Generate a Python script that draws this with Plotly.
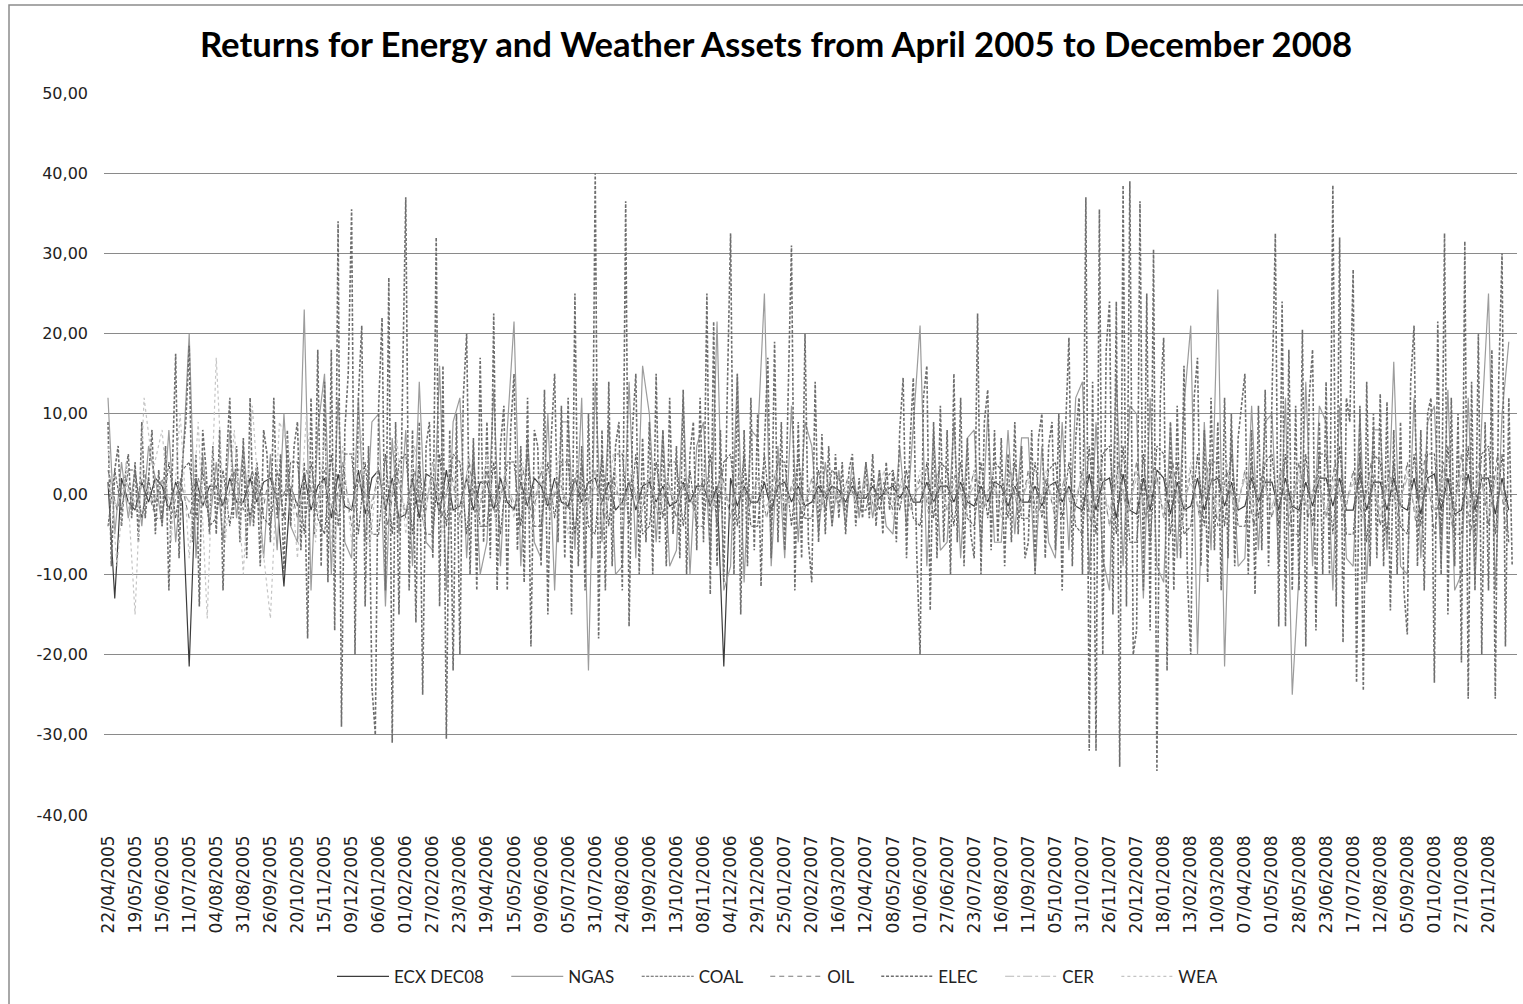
import numpy as np
import plotly.graph_objects as go

TITLE = "Returns for Energy and Weather Assets from April 2005 to December 2008"
TICK_LABELS = [
    "22/04/2005", "19/05/2005", "15/06/2005", "11/07/2005", "04/08/2005", "31/08/2005",
    "26/09/2005", "20/10/2005", "15/11/2005", "09/12/2005", "06/01/2006", "01/02/2006",
    "27/02/2006", "23/03/2006", "19/04/2006", "15/05/2006", "09/06/2006", "05/07/2006",
    "31/07/2006", "24/08/2006", "19/09/2006", "13/10/2006", "08/11/2006", "04/12/2006",
    "29/12/2006", "25/01/2007", "20/02/2007", "16/03/2007", "12/04/2007", "08/05/2007",
    "01/06/2007", "27/06/2007", "23/07/2007", "16/08/2007", "11/09/2007", "05/10/2007",
    "31/10/2007", "26/11/2007", "20/12/2007", "18/01/2008", "13/02/2008", "10/03/2008",
    "07/04/2008", "01/05/2008", "28/05/2008", "23/06/2008", "17/07/2008", "12/08/2008",
    "05/09/2008", "01/10/2008", "27/10/2008", "20/11/2008",
]
Y_TICKS = [-40, -30, -20, -10, 0, 10, 20, 30, 40, 50]
Y_TICK_LABELS = ["-40,00", "-30,00", "-20,00", "-10,00", "0,00",
                 "10,00", "20,00", "30,00", "40,00", "50,00"]
DAYS_PER_LABEL = 19          # trading days between two date labels
TOTAL_DAYS = 989             # trading days in the sample

# values per label interval (one row per interval between consecutive labels)
ECX = [
    [1.5, -13, 2, -1], [-2, 1.5, -1, 2], [1, -2, 1.5, -1], [-21.5, 2, -1.5, 1],
    [1, -1.5, 2, -1], [-1, 2, -1, 1.5], [2, -1, -11.5, 1], [-1.5, 2.5, -2, 1],
    [2, -3, 2.5, -1.5], [-2, 3, -2.5, 2], [3, -2, 2, -3], [-2.5, 2, -3, 2.5],
    [2, -2.5, 3, -2], [-1.5, 2, -2, 1.5], [1.5, -2, 2, -1], [-2, 1.5, -1.5, 2],
    [1, -1.5, 2, -1], [-1.5, 2, -1, 1.5], [2, -1, 1.5, -2], [-1, 1.5, -2, 1],
    [1.5, -1, 1, -1.5], [-1, 1.5, -1, 1], [1, -1.5, 1, -21.5], [2, -1.5, 1, -1],
    [-1, 1.5, -2, 1], [1.5, -1, 1, -1.5], [-1, 1, -0.5, 1], [0.5, -1, 1, -0.5],
    [-0.5, 1, -0.5, 0.5], [1, -0.5, 1, -1], [-1, 1.5, -1, 1], [1, -1, 1.5, -1],
    [-1.5, 1, -1, 1.5], [1, -1.5, 1, -1], [-1, 1, -1.5, 1], [1.5, -1, 1, -1.5],
    [-2, 2.5, -2, 1.5], [2, -3, 2.5, -2], [-2.5, 2, -2, 3], [2, -2.5, 1.5, -2],
    [-1.5, 2, -2, 1.5], [2, -1.5, 1.5, -2], [-1.5, 2, -1, 1.5], [1.5, -2, 2, -1.5],
    [-2, 1.5, -1.5, 2], [2, -1.5, 2, -2], [-2, 2.5, -2, 1.5], [1.5, -2, 2, -1.5],
    [-2, 2, -2.5, 2], [2.5, -2, 2, -2.5], [-2, 2.5, -2, 2], [2, -2.5, 2, -2],
]
NGAS = [
    [12, -5, 4, -3], [3, -4, 6, 2], [-4, 8, -6, 3], [20, -8, 5, -4],
    [4, -6, 8, -3], [6, -4, 3, -8], [5, -7, 10, -4], [-6, 23, -12, 8],
    [15, -10, 12, -6], [-8, 12, -6, 9], [10, -14, 7, -5], [8, -9, 14, -6],
    [-7, 16, -12, 9], [12, -8, 6, -10], [-6, 13, -9, 8], [21.5, -9, 7, -6],
    [-8, 10, -12, 9], [9, -7, 12, -22], [14, -6, 9, -10], [-9, 14, -8, 16],
    [10, -6, 8, -9], [-7, 12, -10, 6], [9, -8, 21.5, -12], [-9, 15, -11, 8],
    [7, 25, -9, 6], [-8, 11, -6, 9], [6, -5, 4, -4], [3, -4, 4, -3],
    [4, -3, 3, -4], [-5, 6, -4, 8], [21, -9, 8, -7], [-6, 9, -8, 7],
    [8, -7, 10, -6], [-6, 8, -5, 7], [7, -10, 6, -6], [-8, 9, -7, 12],
    [14, -10, 9, -8], [-12, 15, -9, 11], [10, -13, 12, -9], [-11, 9, -8, 11],
    [21, -20, 9, -7], [25.5, -21.5, 8, -9], [-8, 11, -7, 9], [10, -9, 12, -25],
    [-10, 14, -9, 11], [9, -12, 11, -8], [-9, 10, -11, 8], [8, -7, 16.5, -9],
    [-10, 12, -8, 9], [11, -9, 13, -12], [-10, 12, -11, 9], [25, -12, 10, 19],
]
COAL = [
    [-4, 3, -2, 3], [3, -3, 2, -3], [-3, 4, -3, 3], [4, -3, 3, -4],
    [-3, 3, -4, 3], [3, -3, 4, -3], [-4, 3, -3, 4], [4, -5, 4, -3],
    [-5, 5, -4, 5], [5, -5, 4, -5], [-5, 5, -5, 4], [5, -5, 4, -5],
    [-5, 5, -4, 5], [4, -5, 4, -4], [-4, 4, -5, 4], [4, -4, 5, -4],
    [-4, 4, -3, 4], [4, -5, 4, -4], [-5, 5, -4, 5], [5, -4, 5, -5],
    [-4, 4, -3, 4], [4, -4, 3, -4], [-4, 5, -4, 4], [5, -4, 5, -4],
    [-4, 5, -4, 4], [4, -4, 5, -3], [-3, 3, -2, 3], [2, -2, 2, -2],
    [-2, 2, -2, 2], [3, -2, 3, -3], [-4, 4, -3, 4], [3, -4, 4, -3],
    [-4, 4, -3, 4], [3, -3, 4, -3], [-3, 4, -3, 3], [4, -3, 4, -4],
    [-5, 6, -5, 5], [6, -5, 6, -6], [-6, 5, -6, 6], [5, -5, 4, -5],
    [-4, 5, -4, 4], [4, -4, 5, -4], [-4, 4, -3, 4], [5, -4, 5, -5],
    [-5, 5, -4, 5], [5, -5, 6, -5], [-5, 5, -6, 5], [4, -5, 4, -4],
    [-5, 5, -4, 5], [5, -5, 6, -5], [-5, 6, -5, 5], [6, -5, 5, -6],
]
OIL = [
    [3, -2, 2], [-2, 3, -2], [2, -3, 2], [-3, 2, -2], [2, -2, 3], [-2, 3, -3],
    [3, -2, 2], [-3, 3, -2], [3, -3, 4], [-4, 3, -3], [3, -4, 3], [-3, 3, -4],
    [4, -3, 3], [-3, 4, -3], [3, -3, 2], [-2, 3, -3], [3, -2, 2], [-2, 3, -2],
    [3, -3, 2], [-2, 2, -3], [2, -3, 2], [-3, 2, -2], [2, -2, 3], [-3, 3, -2],
    [2, -3, 3], [-2, 2, -3], [2, -2, 2], [-1.5, 2, -1.5], [1.5, -2, 1.5], [-2, 2, -2],
    [2, -2, 3], [-2, 3, -2], [3, -2, 2], [-2, 3, -3], [3, -3, 2], [-3, 2, -3],
    [3, -4, 3], [-4, 4, -3], [4, -3, 4], [-3, 4, -4], [3, -3, 4], [-4, 3, -3],
    [3, -4, 3], [-3, 3, -4], [4, -3, 3], [-3, 4, -3], [3, -3, 4], [-4, 3, -3],
    [4, -4, 5], [-5, 4, -4], [5, -5, 4], [-4, 5, -5],
]
ELEC = [
    [9, -9, 3, 6, -4, 2, 5, -3], [4, -6, 9, -3, 2, 8, -5, 3],
    [-4, 6, -12, 3, 17.5, -8, 4, 9], [18.5, -6, 5, -14, 8, 3, -5, 6],
    [-5, 8, -12, 4, 12, -3, 6, -6], [7, -8, 12, -4, 3, -9, 8, 5],
    [-6, 12, -3, 5, -10, 8, -4, 6], [9, -7, 4, -18, 12, -5, 18, -9],
    [14, -11, 18, -17, 34, -29, 8, 15], [35.5, -20, 12, 21, -14, 6, -24, -30],
    [11, 22, -12, 27, -31, 9, -15, 12], [37, -12, 8, -16, 9, -25, 6, 9],
    [-8, 32, -14, 16, -30.5, 8, -22, 10], [-20, 12, 20, -10, 7, -12, 17, -6],
    [9, -8, 22.5, -12, 6, 11, -12, 8], [15, -7, 6, -11, 12, -19, 8, 6],
    [-9, 13, -15, 7, 15, -6, 11, -8], [12, -15, 25, -9, 6, -12, 10, -8],
    [40, -18, 8, -12, 14, -9, 6, 9], [-12, 36.5, -16.5, 8, 15, -10, 7, -6],
    [9, -10, 15, -6, 8, -9, 12, -5], [6, -8, 13, -10, 5, 9, -7, 12],
    [-6, 25, -12.5, 21.5, -9, 8, -11, 12], [32.5, -10, 15, -15, 8, -9, 12, -7],
    [10, -11.5, 6, 17, -8, 19, -6, 9], [-7, 12, 31, -12, 9, -8, 20, -6],
    [-11, 14, -6, 7.5, -5, 6, -4, 5], [-3, 4, -5, 3, 5, -4, 2, -3],
    [4, -3, 5, -4, 3, -5, 4, -2], [3, -6, 8, 14.5, -8, 6, 14.5, -7],
    [-20, 12, 16, -14.5, 9, -8, 11, -6], [8, -10, 15, -6, 12, -9, 7, -5],
    [-8, 22.5, -10, 9, 13, -7, 8, -6], [7, -9, 5, -6, 9, -5, 6, -8],
    [-6, 8, -10, 7, 10, -8, 6, 9], [-7, 10, -12, 8, 19.5, -9, 7, 12],
    [-10, 37, -32, 14, -32, 35.5, -20, 18], [24, -15, 24, -34, 38.5, -14, 39, -20],
    [-17, 36.5, -12, 25, -17, 30.5, -34.5, 12], [19.5, -22, 9, -12, 11, -8, 16, -10],
    [-20, 12, 17, -9, 8, -11, 12, -7], [9, -12, 12, -8, 10, -9, 7, 11],
    [15, -10, 8, -12.5, 11, -7, 13, -9], [12, 32.5, -16.5, 24, -16.5, 18, -12, 11],
    [-12, 20.5, -19, 12, 18, -17, 9, -10], [14, -10, 38.5, -14, 32, -18.5, 12, 9],
    [28, -23.5, 11, -24.5, 14, -9, 10, -8], [12.5, -9, 11.5, -14.5, 8, -10, 9, -12],
    [-17.5, 14, 21, -9, 8, -12, 10, 12], [-23.5, 21.5, -10, 32.5, -15, 12, -9, 10],
    [-21, 31.5, -25.5, 14, -12, 20, -20, 9], [-12, 18, -25.5, 14, 30, -19, 12, -9],
]
CER = [
    [1, -1.5, 1], [-1, 1.5, -1], [1.5, -1, 1], [-1, 1, -1.5], [1, -1.5, 1.5], [-1.5, 1, -1],
    [1, -1, 1.5], [-1.5, 1.5, -1], [1.5, -2, 1.5], [-2, 1.5, -1.5], [1.5, -1.5, 2], [-2, 2, -1.5],
    [2, -1.5, 1.5], [-1.5, 2, -2], [1.5, -1, 1.5], [-1, 1.5, -1], [1.5, -1, 1], [-1, 1, -1.5],
    [1, -1.5, 1], [-1.5, 1, -1], [1, -1, 1], [-1, 1, -1], [1, -1, 1.5], [-1.5, 1, -1],
    [1, -1.5, 1], [-1, 1, -1], [0.5, -1, 0.5], [-0.5, 0.5, -0.5], [0.5, -0.5, 0.5], [-1, 1, -0.5],
    [1, -1, 1], [-1, 1, -1], [1, -1.5, 1], [-1, 1, -1.5], [1.5, -1, 1], [-1, 1.5, -1],
    [2, -2, 1.5], [-2, 2.5, -2], [2, -2, 2.5], [-2, 2, -1.5], [1.5, -2, 1.5], [-1.5, 1.5, -2],
    [2, -1.5, 1.5], [-1.5, 2, -1.5], [2, -2, 1.5], [-2, 1.5, -2], [1.5, -2, 2], [-2, 2, -1.5],
    [2, -2.5, 2], [-2, 2, -2.5], [2.5, -2, 2], [-2, 2.5, -2],
]
WEA = [
    [6, -9, 4], [-15, 12, 3], [8, -6, 10], [-8, 9, -15.5], [17, -6, 8], [-10, 11, -5],
    [-15.5, 9, 6], [-8, 10, -6], [7, -9, 6], [-6, 8, -7], [5, -6, 7], [-5, 6, -4],
    [4, -5, 6], [-4, 5, -3], [5, -4, 3], [-3, 4, -5], [4, -3, 5], [-5, 4, -3],
    [3, -4, 5], [-4, 3, -3], [3, -3, 2], [-2, 3, -3], [3, -2, 2], [-3, 3, -2],
    [2, -3, 3], [-3, 2, -2], [2, -2, 2], [-2, 2, -2], [2, -2, 3], [-3, 2, -2],
    [3, -3, 2], [-2, 3, -3], [3, -2, 3], [-3, 3, -2], [2, -3, 3], [-3, 2, -3],
    [3, -3, 4], [-4, 3, -3], [3, -4, 3], [-3, 3, -4], [4, -3, 3], [-3, 4, -3],
    [3, -3, 2], [-2, 3, -3], [3, -2, 3], [-3, 3, -2], [2, -3, 3], [-3, 2, -3],
    [3, -3, 2], [-2, 3, -3], [3, -2, 3], [-3, 3, -2],
]

SERIES = [
    ("ECX DEC08", ECX, "#3c3c3c", "solid", 1.2),
    ("NGAS", NGAS, "#9c9c9c", "solid", 1.2),
    ("COAL", COAL, "#5c5c5c", "3px,1.5px", 1.1),
    ("OIL", OIL, "#7a7a7a", "5px,4px", 1.1),
    ("ELEC", ELEC, "#6e6e6e", "3px,1.8px", 1.6),
    ("CER", CER, "#b8b8b8", "dashdot", 1.1),
    ("WEA", WEA, "#c4c4c4", "dot", 1.2),
]
PAD = "\u00a0" * 4

fig = go.Figure()
for name, rows, color, dash, width in SERIES:
    vals = [v for row in rows for v in row]
    per_row = len(rows[0])
    step = DAYS_PER_LABEL / per_row
    x = np.arange(len(vals)) * step
    fig.add_trace(go.Scatter(
        x=x, y=vals, mode="lines", name=name + PAD,
        line=dict(color=color, dash=dash, width=width),
    ))

tickvals = [i * DAYS_PER_LABEL for i in range(len(TICK_LABELS))]

fig.update_layout(
    width=1523, height=1004,
    paper_bgcolor="white", plot_bgcolor="white",
    separators=",.",
    margin=dict(l=104, r=6, t=93, b=189),
    title=dict(text="<b>" + TITLE + "</b>", x=776 / 1523, xref="container", xanchor="center",
               y=1 - 45 / 1004, yref="container", yanchor="middle",
               font=dict(family="Lato", size=34.7, color="black")),
    xaxis=dict(range=[-2.8, TOTAL_DAYS], tickvals=tickvals, ticktext=TICK_LABELS,
               tickangle=-90, showgrid=False, zeroline=False, showline=False, ticks="",
               ticklabelstandoff=16,
               tickfont=dict(family="DejaVu Sans", size=17, color="#222")),
    yaxis=dict(range=[-40, 50], tickvals=Y_TICKS, ticktext=Y_TICK_LABELS,
               showgrid=True, gridcolor="#8a8a8a", gridwidth=1.3, zeroline=False,
               showline=False, ticks="", ticklabelstandoff=15,
               tickfont=dict(family="DejaVu Sans", size=16, color="#222")),
    legend=dict(orientation="h", x=(786 - 104) / 1413, xanchor="center",
                y=-0.224, yanchor="middle", itemwidth=52,
                font=dict(family="Lato", size=17, color="#222")),
    showlegend=True,
)
fig.add_shape(type="rect", xref="paper", yref="paper",
              x0=(9 - 104) / 1413, x1=(1530 - 104) / 1413,
              y0=(815 - 1010) / 722, y1=(815 - 5) / 722,
              line=dict(color="#8c8c8c", width=1.5), fillcolor="rgba(0,0,0,0)", layer="below")

fig.write_html("out.html", config={"displayModeBar": False},
               post_script="document.body.style.margin='0';document.body.style.overflow='hidden';")
